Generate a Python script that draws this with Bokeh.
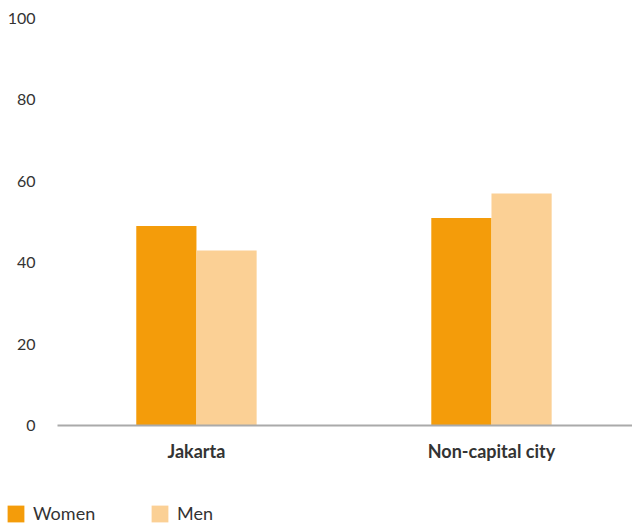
from bokeh.plotting import figure
from bokeh.layouts import column, row
from bokeh.models import Range1d, FixedTicker, Legend, LegendItem, ColumnDataSource
from bokeh.embed import file_html
from bokeh.resources import INLINE

categories = ["Jakarta", "Non-capital city"]
women = [49, 51]
men = [43, 57]
y_ticks = [0, 20, 40, 60, 80, 100]
series_names = ["Women", "Men"]

WOMEN_COLOR = "#F49C0A"
MEN_COLOR = "#FBD095"
FONT = "Lato"

pos = [i + 0.5 for i in range(len(categories))]
bw = 0.204
src = ColumnDataSource(dict(
    xw=[p - bw / 2 for p in pos],
    xm=[p + bw / 2 for p in pos],
    women=women,
    men=men,
))

p = figure(width=632, height=470, output_backend="svg", toolbar_location=None,
           x_range=Range1d(0.029, 1.978), y_range=Range1d(0, 100),
           min_border_left=57, min_border_right=0, min_border_top=18,
           min_border_bottom=45)
p.outline_line_color = None
p.xgrid.visible = False
p.ygrid.visible = False
p.background_fill_color = "white"
p.border_fill_color = "white"

rw = p.vbar(x="xw", top="women", width=bw, source=src, color=WOMEN_COLOR, line_color=None)
rm = p.vbar(x="xm", top="men", width=bw, source=src, color=MEN_COLOR, line_color=None)

# y axis
p.yaxis.ticker = FixedTicker(ticks=y_ticks)
p.yaxis.axis_line_color = None
p.yaxis.major_tick_line_color = None
p.yaxis.minor_tick_line_color = None
p.yaxis.major_label_standoff = 16
p.yaxis.major_label_text_font = FONT
p.yaxis.major_label_text_font_size = "16px"
p.yaxis.major_label_text_color = "#333333"

# x axis
p.xaxis.ticker = FixedTicker(ticks=pos)
p.xaxis.major_label_overrides = {pp: c for pp, c in zip(pos, categories)}
p.xaxis.axis_line_color = "#AAAAAA"
p.xaxis.axis_line_width = 2
p.xaxis.major_tick_line_color = None
p.xaxis.minor_tick_line_color = None
p.xaxis.major_label_standoff = 8
p.xaxis.major_label_text_font = FONT
p.xaxis.major_label_text_font_size = "18px"
p.xaxis.major_label_text_font_style = "bold"
p.xaxis.major_label_text_color = "#333333"

# legend strip (its own small plot; the key renderers hold one point out of view)
lg = figure(width=632, height=55, output_backend="svg", toolbar_location=None,
            x_range=Range1d(0, 1), y_range=Range1d(0, 1),
            x_axis_location=None, y_axis_location=None,
            min_border=0, min_border_left=0, min_border_right=0,
            min_border_top=0, min_border_bottom=0)
lg.grid.visible = False
lg.outline_line_color = None
key_src = ColumnDataSource(dict(x=[-5], top=[-5]))
lw = lg.vbar(x="x", top="top", width=0.1, source=key_src, color=WOMEN_COLOR, line_color=None)
lm = lg.vbar(x="x", top="top", width=0.1, source=key_src, color=MEN_COLOR, line_color=None)
legend = Legend(items=[LegendItem(label=series_names[0], renderers=[lw]),
                       LegendItem(label=series_names[1], renderers=[lm])],
                orientation="horizontal", location=(5, 1),
                glyph_width=21, glyph_height=21, label_standoff=7,
                label_width=108, spacing=8, padding=0, margin=0,
                border_line_color=None, background_fill_alpha=0,
                label_text_font=FONT, label_text_font_size="18px",
                label_text_color="#333333")
lg.add_layout(legend, "center")

layout = column(p, row(lg, spacing=0), spacing=0)
open("out.html", "w").write(file_html(layout, INLINE))
